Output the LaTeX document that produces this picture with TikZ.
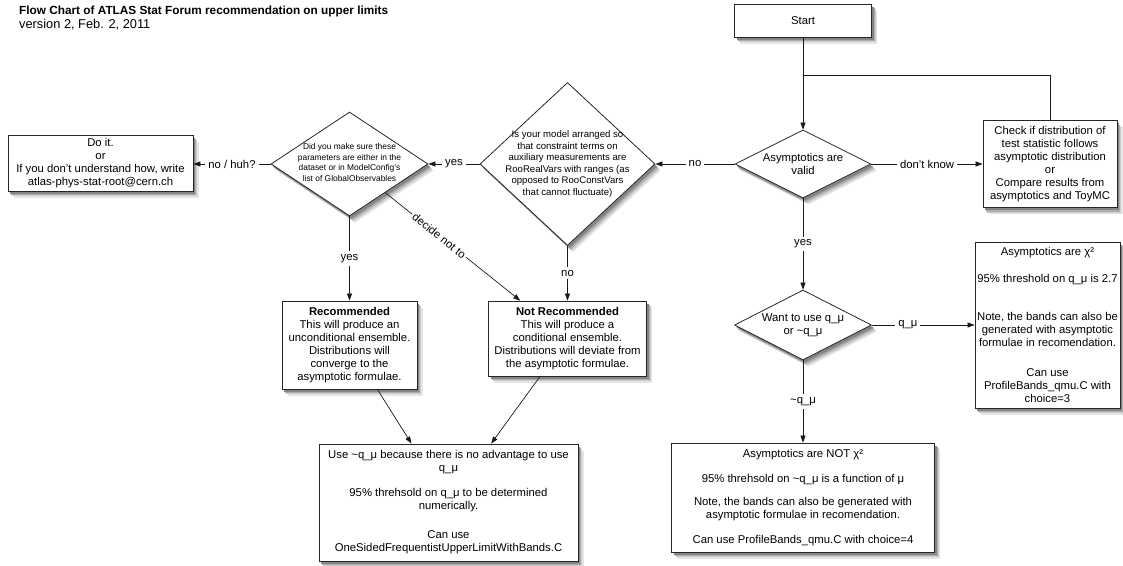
\documentclass[tikz,border=0pt]{standalone}
\usepackage{fontspec}
\setmainfont{Liberation Sans}
\usetikzlibrary{shapes.geometric,arrows.meta}
\newcommand\fsbox{\fontsize{11.3}{13}\selectfont}
\newcommand\fsglob{\fontsize{8.4}{10.5}\selectfont}
\newcommand\fsmodel{\fontsize{9.6}{11.5}\selectfont}
\newcommand\fstitle{\fontsize{11.8}{14}\selectfont}
\newcommand\fsver{\fontsize{12.8}{14}\selectfont}
\newcommand\shbox[4]{%
  \foreach \dx/\dy/\shc in {5.5/6.5/10,4.3/5.2/20,3.2/4/32,2/2.6/48}{%
    \fill[black!\shc] ({#1-#3/2+\dx},{#2-#4/2-\dy}) rectangle ({#1+#3/2+\dx},{#2+#4/2-\dy});}}
\newcommand\shdia[4]{%
  \foreach \dx/\dy/\shc in {5.5/6.5/10,4.3/5.2/20,3.2/4/32,2/2.6/48}{%
    \fill[black!\shc] ({#1+\dx},{#2+#4/2-\dy}) -- ({#1+#3/2+\dx},{#2-\dy}) -- ({#1+\dx},{#2-#4/2-\dy}) -- ({#1-#3/2+\dx},{#2-\dy}) -- cycle;}}
\begin{document}
\begin{tikzpicture}[x=1pt,y=1pt,
  box/.style={draw=black!85,line width=0.8pt,fill=white,rectangle,inner sep=0pt,align=center,font=\fsbox},
  dia/.style={draw=black!85,line width=0.8pt,fill=white,diamond,inner sep=0pt},
  dtext/.style={align=center,inner sep=0pt},
  conn/.style={line width=0.7pt,draw=black!90},
  arr/.style={conn,-{Triangle[length=7pt,width=5pt]}},
  lbl/.style={fill=white,inner sep=3pt,font=\fsbox}]
\useasboundingbox (0,0) rectangle (1123,-565);
% shadows
\shbox{803}{-20.5}{137}{33}
\shbox{1050}{-164}{134}{87}
\shbox{100.5}{-163}{185}{56}
\shbox{349.5}{-345}{135}{88}
\shbox{567.5}{-338.5}{158}{75}
\shbox{448.5}{-502.5}{259}{117}
\shbox{1047.5}{-325}{145}{166}
\shbox{803}{-497.5}{263}{109}
\shdia{803}{-164}{136}{68}
\shdia{567.5}{-164}{175}{163}
\shdia{349.5}{-164}{157}{104}
\shdia{803}{-325}{137}{70}
% title
\node[anchor=base west,inner sep=0pt,font=\fstitle\bfseries] (title) at (19,-14) {Flow Chart of ATLAS Stat Forum recommendation on upper limits};
\node[anchor=base west,inner sep=0pt,font=\fsver] (version) at (19,-28.5) {version 2, Feb. 2, 2011};
% nodes
\node[box,minimum width=137pt,minimum height=33pt] (start) at (803,-20.5) {Start};
\node[dia,minimum width=136pt,minimum height=68pt] (asym) at (803,-164) {};
\node[dtext,font=\fsbox] (asymt) at (asym) {Asymptotics are\\valid};
\node[box,minimum width=134pt,minimum height=87pt] (check) at (1050,-164) {Check if distribution of\\test statistic follows\\asymptotic distribution\\or\\Compare results from\\asymptotics and ToyMC};
\coordinate (join) at (803,-75);
\node[dia,minimum width=175pt,minimum height=163pt] (model) at (567.5,-164) {};
\node[dtext,font=\fsmodel] (modelt) at (model) {Is your model arranged so\\that constraint terms on\\auxiliary measurements are\\RooRealVars with ranges (as\\opposed to RooConstVars\\that cannot fluctuate)};
\node[dia,minimum width=157pt,minimum height=104pt] (glob) at (349.5,-164) {};
\node[dtext,font=\fsglob] (globt) at (349.5,-162.5) {Did you make sure these\\parameters are either in the\\dataset or in ModelConfig's\\list of GlobalObservables};
\node[box,minimum width=185pt,minimum height=56pt] (doit) at (100.5,-163) {Do it.\\or\\If you don't understand how, write\\atlas-phys-stat-root@cern.ch};
\node[box,minimum width=135pt,minimum height=88pt] (rec) at (349.5,-345) {\textbf{Recommended}\\This will produce an\\unconditional ensemble.\\Distributions will\\converge to the\\asymptotic formulae.};
\node[box,minimum width=158pt,minimum height=75pt] (nrec) at (567.5,-338.5) {\textbf{Not Recommended}\\This will produce a\\conditional ensemble.\\Distributions will deviate from\\the asymptotic formulae.};
\node[box,minimum width=259pt,minimum height=117pt] (bot) at (448.5,-502.5) {Use \textasciitilde q\_μ because there is no advantage to use\\q\_μ\\[12pt]95\% threhsold on q\_μ to be determined\\numerically.\\[16pt]Can use\\OneSidedFrequentistUpperLimitWithBands.C};
\node[dia,minimum width=137pt,minimum height=70pt] (want) at (803,-325) {};
\node[dtext,font=\fsbox] (wantt) at (want) {Want to use q\_μ\\or \textasciitilde q\_μ};
\node[box,minimum width=145pt,minimum height=166pt] (chi) at (1047.5,-325) {Asymptotics are χ²\\[14pt]95\% threshold on q\_μ is 2.7\\[25pt]Note, the bands can also be\\generated with asymptotic\\formulae in recomendation.\\[17pt]Can use\\ProfileBands\_qmu.C with\\choice=3};
\node[box,minimum width=263pt,minimum height=109pt] (notchi) at (803,-497.5) {Asymptotics are NOT χ²\\[12pt]95\% threhsold on \textasciitilde q\_μ is a function of μ\\[10pt]Note, the bands can also be generated with\\asymptotic formulae in recomendation.\\[12pt]Can use ProfileBands\_qmu.C with choice=4};
% connectors
\draw[arr] (start) -- (asym);
\draw[conn] (check.north) |- (join);
\draw[arr] (asym) -- node[lbl]{don't know} (check);
\draw[arr] (asym) -- node[lbl]{no} (model);
\draw[arr] (model) -- node[lbl]{yes} (glob);
\draw[arr] (glob.west) -- node[lbl]{no / huh?} (glob.west -| doit.east);
\draw[arr] (glob) -- node[lbl]{yes} (rec);
\draw[arr] (glob) -- node[lbl,sloped,pos=0.4,inner sep=2pt]{decide not to} (nrec);
\draw[arr] (model) -- node[lbl]{no} (nrec);
\draw[arr] (rec) -- (bot);
\draw[arr] (nrec) -- (bot);
\draw[arr] (asym) -- node[lbl]{yes} (want);
\draw[arr] (want) -- node[lbl,pos=0.35]{q\_μ} (chi);
\draw[arr] (want) -- node[lbl]{\textasciitilde q\_μ} (notchi);
\end{tikzpicture}
\end{document}
